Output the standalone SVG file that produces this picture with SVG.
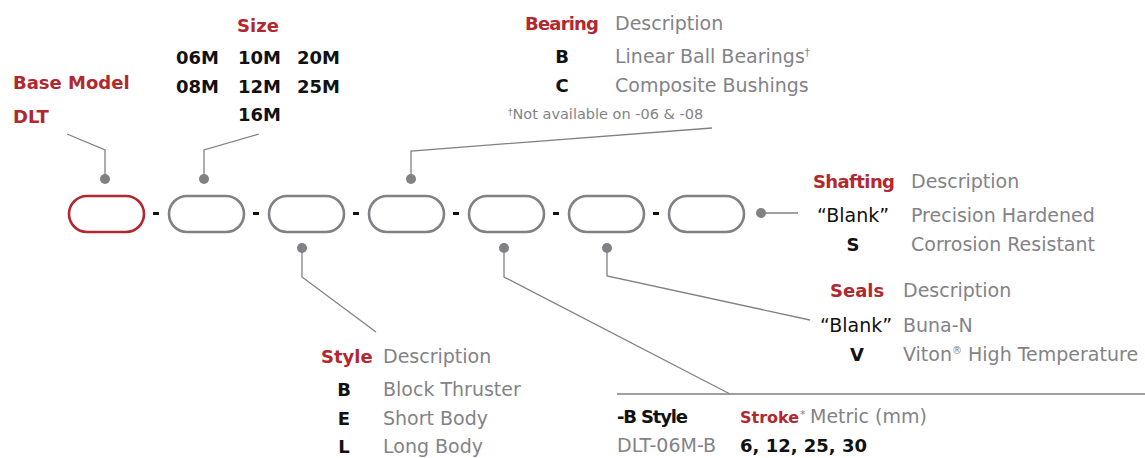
<svg xmlns="http://www.w3.org/2000/svg" width="1145" height="458" viewBox="0 0 1145 458">
<style>
.pill{fill:none;stroke:#818185;stroke-width:2.6}
.red{fill:#b1282f;font-family:"DejaVu Sans",sans-serif;font-weight:bold;font-size:18px}
.blk{fill:#111;font-family:"DejaVu Sans",sans-serif;font-weight:bold;font-size:18px}
.blkr{fill:#111;font-family:"DejaVu Sans",sans-serif;font-size:19px}
.gry{fill:#838387;font-family:"DejaVu Sans",sans-serif;font-size:19px}
.sm{fill:#838387;font-family:"DejaVu Sans",sans-serif;font-size:14.5px}
.sup{font-size:10px}
.ast{fill:#838387;font-family:"DejaVu Sans",sans-serif;font-size:11px}
.mid{text-anchor:middle}
.ln{fill:none;stroke:#818185;stroke-width:1.3}
.dot{fill:#818185}
</style>
<rect width="1145" height="458" fill="#fff"/>
<g id="connectors">
<polyline class="ln" points="67,134 105,150 105,179"/>
<polyline class="ln" points="259,134 204,150 204,179"/>
<polyline class="ln" points="712,128 411,151 411,179"/>
<polyline class="ln" points="302,248 302,277 376,332"/>
<polyline class="ln" points="504,248 504,277 730,394"/>
<polyline class="ln" points="607,248 607,276 810,320"/>
<line class="ln" x1="761" y1="213" x2="798" y2="213"/>
<line class="ln" x1="617" y1="394" x2="1145" y2="394"/>
<circle class="dot" cx="105" cy="179" r="5"/>
<circle class="dot" cx="204" cy="179" r="5"/>
<circle class="dot" cx="411" cy="179" r="5"/>
<circle class="dot" cx="302" cy="248" r="5"/>
<circle class="dot" cx="504" cy="248" r="5"/>
<circle class="dot" cx="607" cy="248" r="5"/>
<circle class="dot" cx="761" cy="213" r="5"/>
</g>
<g id="pills">
<rect id="pill-base" x="69" y="196" width="75" height="36" rx="18" fill="none" stroke="#b1282f" stroke-width="2.6"/>
<rect id="pill-size" class="pill" x="169" y="196" width="75" height="36" rx="18"/>
<rect id="pill-style" class="pill" x="269" y="196" width="75" height="36" rx="18"/>
<rect id="pill-bearing" class="pill" x="369" y="196" width="75" height="36" rx="18"/>
<rect id="pill-stroke" class="pill" x="469" y="196" width="75" height="36" rx="18"/>
<rect id="pill-seals" class="pill" x="569" y="196" width="75" height="36" rx="18"/>
<rect id="pill-shafting" class="pill" x="669" y="196" width="75" height="36" rx="18"/>
<g fill="#111">
<rect x="153" y="212" width="6" height="3"/>
<rect x="253" y="212" width="6" height="3"/>
<rect x="353" y="212" width="6" height="3"/>
<rect x="453" y="212" width="6" height="3"/>
<rect x="553" y="212" width="6" height="3"/>
<rect x="653" y="212" width="6" height="3"/>
</g>
</g>
<g id="base-model">
<text class="red" x="13" y="89">Base Model</text>
<text class="red" x="13" y="123">DLT</text>
</g>
<g id="size">
<text class="red mid" x="258" y="32">Size</text>
<text class="blk" x="176" y="64">06M</text>
<text class="blk" x="238" y="64">10M</text>
<text class="blk" x="297" y="64">20M</text>
<text class="blk" x="176" y="93">08M</text>
<text class="blk" x="238" y="93">12M</text>
<text class="blk" x="297" y="93">25M</text>
<text class="blk" x="238" y="121">16M</text>
</g>
<g id="bearing">
<text class="red" x="525" y="30" textLength="74">Bearing</text>
<text class="gry" x="615" y="30">Description</text>
<text class="blk mid" x="562" y="63">B</text>
<text class="gry" x="615" y="63">Linear Ball Bearings<tspan class="sup" dy="-7">†</tspan></text>
<text class="blk mid" x="562" y="92">C</text>
<text class="gry" x="615" y="92">Composite Bushings</text>
<text class="sm" x="508" y="119"><tspan font-size="9px" dy="-4">†</tspan><tspan dy="4">Not available on -06 &amp; -08</tspan></text>
</g>
<g id="shafting">
<text class="red" x="813" y="188" textLength="82">Shafting</text>
<text class="gry" x="911" y="188">Description</text>
<text class="blkr" x="817" y="222">“Blank”</text>
<text class="gry" x="911" y="222">Precision Hardened</text>
<text class="blk mid" x="853" y="251">S</text>
<text class="gry" x="911" y="251">Corrosion Resistant</text>
</g>
<g id="seals">
<text class="red" x="830" y="297">Seals</text>
<text class="gry" x="903" y="297">Description</text>
<text class="blkr" x="820" y="332">“Blank”</text>
<text class="gry" x="903" y="332">Buna-N</text>
<text class="blk mid" x="857" y="361">V</text>
<text class="gry" x="903" y="361">Viton<tspan class="sup" dy="-7">®</tspan><tspan dy="7"> High Temperature</tspan></text>
</g>
<g id="style">
<text class="red" x="321" y="363">Style</text>
<text class="gry" x="383" y="363">Description</text>
<text class="blk mid" x="344" y="396">B</text>
<text class="gry" x="383" y="396">Block Thruster</text>
<text class="blk mid" x="344" y="425">E</text>
<text class="gry" x="383" y="425">Short Body</text>
<text class="blk mid" x="344" y="453">L</text>
<text class="gry" x="383" y="453">Long Body</text>
</g>
<g id="stroke">
<text class="blk" x="617" y="423" textLength="71">-B Style</text>
<text class="red" x="740" y="423" style="font-size:16px">Stroke</text>
<text class="ast" x="800" y="418">*</text>
<text class="gry" x="810" y="423">Metric (mm)</text>
<text class="gry" x="617" y="452">DLT-06M-B</text>
<text class="blk" x="740" y="452">6, 12, 25, 30</text>
</g>
</svg>
